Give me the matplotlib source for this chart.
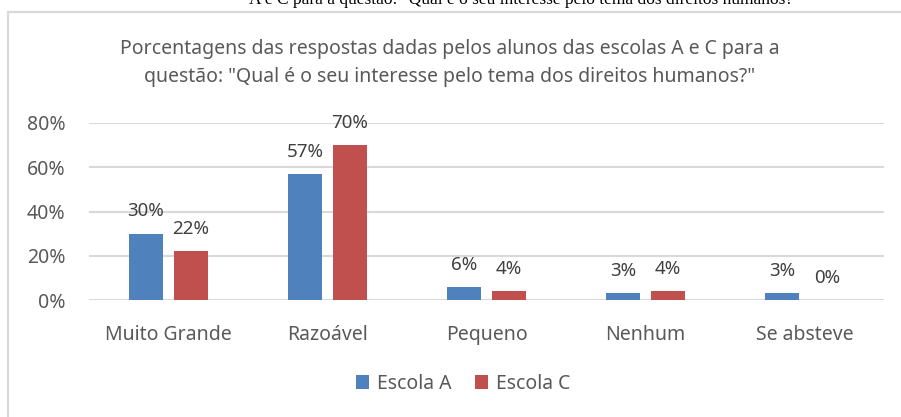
import numpy as np
import matplotlib
matplotlib.use("Agg")
from matplotlib import pyplot as plt
from matplotlib.patches import Rectangle

categorias = ["Muito Grande", "Razoável", "Pequeno", "Nenhum", "Se absteve"]
escola_a = [0.30, 0.57, 0.06, 0.03, 0.03]
escola_c = [0.22, 0.70, 0.04, 0.04, 0.00]
yticks = [0.0, 0.2, 0.4, 0.6, 0.8]

W, H = 901, 417
cor_a = "#4f81bd"
cor_c = "#c0504d"
cinza = "#595959"

plt.rcParams['font.family'] = ['Noto Sans', 'DejaVu Sans']

fig = plt.figure(figsize=(W / 100, H / 100), dpi=100)

# frame of the embedded chart
fig.patches.append(Rectangle((7.5 / W, -0.1), 1.0, (H - 11.5) / H + 0.1,
                             transform=fig.transFigure, fill=False,
                             edgecolor="#d9d9d9", linewidth=1.5))

# cut-off caption line above the chart
fig.text(525 / W, 1 - 4 / H,
         'A e C para a questão: "Qual é o seu interesse pelo tema dos direitos humanos?"',
         ha="center", va="baseline", fontsize=12.5, family="Liberation Serif",
         color="black")

# title
fig.text(450 / W, 1 - 63 / H,
         'Porcentagens das respostas dadas pelos alunos das escolas A e C para a\n'
         'questão: "Qual é o seu interesse pelo tema dos direitos humanos?"',
         ha="center", va="center", fontsize=14, color=cinza, linespacing=1.5)

left, right = 89 / W, 884 / W
bottom, top = (H - 300) / H, (H - 123) / H
ax = fig.add_axes([left, bottom, right - left, top - bottom])

x = np.arange(len(categorias))
w = 0.22
off = 0.1415
ba = ax.bar(x - off, escola_a, w, color=cor_a, label="Escola A", zorder=3)
bc = ax.bar(x + off, escola_c, w, color=cor_c, label="Escola C", zorder=3)

for bars in (ba, bc):
    for b in bars:
        h = b.get_height()
        ax.annotate(f"{h * 100:.0f}%", (b.get_x() + b.get_width() / 2, h),
                    xytext=(0, 9.5), textcoords="offset points",
                    ha="center", va="bottom", fontsize=13.5, color="#404040")

ax.set_xlim(-0.5, len(categorias) - 0.5)
ax.set_ylim(0, 0.8)
ax.set_yticks(yticks)
ax.set_yticklabels([f"{v * 100:.0f}%" for v in yticks])
ax.set_xticks(x)
ax.set_xticklabels(categorias)
ax.tick_params(axis="both", length=0, labelsize=14, colors=cinza)
ax.tick_params(axis="y", pad=17)
ax.tick_params(axis="x", pad=18)
ax.grid(axis="y", color="#d9d9d9", linewidth=1.5, zorder=0)
for s in ax.spines.values():
    s.set_visible(False)

fig.legend(handles=[ba, bc], labels=["Escola A", "Escola C"],
           loc="center", bbox_to_anchor=(463 / W, 1 - 384 / H), ncol=2,
           frameon=False, fontsize=14, handlelength=0.7, handleheight=0.7,
           handletextpad=0.4, columnspacing=1.2, labelcolor=cinza)

fig.savefig("out.png", dpi=100)
